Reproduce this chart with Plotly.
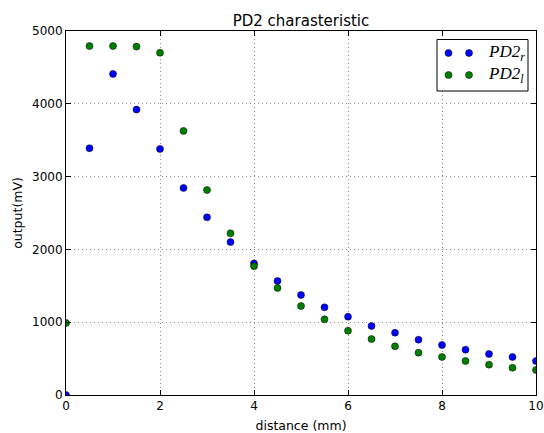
import plotly.graph_objects as go

distance = [0, 0.5, 1, 1.5, 2, 2.5, 3, 3.5, 4, 4.5, 5, 5.5, 6, 6.5, 7, 7.5, 8, 8.5, 9, 9.5, 10]
pd2_r = [0, 3390, 4410, 3920, 3380, 2845, 2440, 2100, 1808, 1566, 1374, 1204, 1076, 948, 856, 760, 687, 623, 563, 522, 467]
pd2_l = [990, 4794, 4794, 4786, 4702, 3628, 2816, 2221, 1770, 1470, 1222, 1040, 883, 769, 668, 581, 522, 467, 417, 375, 343]

x_ticks = [0, 2, 4, 6, 8, 10]
y_ticks = [0, 1000, 2000, 3000, 4000, 5000]

BLUE = "#0000ff"
GREEN = "#007f00"
FONT = "DejaVu Sans"

fig = go.Figure()
for name, vals, col in [("PD2_r", pd2_r, BLUE), ("PD2_l", pd2_l, GREEN)]:
    fig.add_trace(go.Scatter(
        x=distance, y=vals, mode="markers", name=name, showlegend=False,
        marker=dict(size=7, color=col, line=dict(color="#000000", width=0.5)),
        cliponaxis=True,
    ))

axis_common = dict(
    showline=True, linecolor="#000000", linewidth=1, mirror="ticks",
    ticks="inside", ticklen=5, tickcolor="#000000", tickwidth=1,
    showgrid=True, gridcolor="#8c8c8c", griddash="1px,3px", gridwidth=1,
    zeroline=False, tickfont=dict(family=FONT, size=12, color="#000000"),
    automargin=False,
)

fig.update_layout(
    width=544, height=433,
    margin=dict(l=66, r=8, t=31, b=38),
    paper_bgcolor="#ffffff", plot_bgcolor="#ffffff",
    title=dict(text="PD2 charasteristic", x=0.5, xanchor="center", xref="paper",
               y=1 - 21 / 433, yanchor="middle",
               font=dict(family=FONT, size=15, color="#000000")),
    xaxis=dict(range=[0, 10], tickvals=x_ticks, ticktext=[str(v) for v in x_ticks],
               title=dict(text="distance (mm)", standoff=8,
                          font=dict(family=FONT, size=12.5, color="#000000")),
               **axis_common),
    yaxis=dict(range=[0, 5000], tickvals=y_ticks, ticktext=[str(v) for v in y_ticks],
               title=dict(text="output(mV)", standoff=6,
                          font=dict(family=FONT, size=12.5, color="#000000")),
               **axis_common),
    showlegend=False,
)

# Custom legend (matplotlib style, two markers per entry)
pw, ph = 544 - 66 - 8, 433 - 31 - 38
def px(xp):
    return (xp - 66) / pw
def py(yp):
    return (395 - yp) / ph

fig.add_shape(type="rect", xref="paper", yref="paper",
              x0=px(437), x1=px(528), y0=py(91), y1=py(39.5),
              line=dict(color="#000000", width=1), fillcolor="#ffffff", layer="above")
labels = [("<i>PD2</i><sub><i>r</i></sub>", BLUE, 53), ("<i>PD2</i><sub><i>l</i></sub>", GREEN, 75)]
for text, col, yp in labels:
    for xp in (448.5, 469):
        fig.add_shape(type="circle", xref="paper", yref="paper",
                      x0=px(xp - 3.5), x1=px(xp + 3.5), y0=py(yp + 3.5), y1=py(yp - 3.5),
                      fillcolor=col, line=dict(color="#000000", width=0.5), layer="above")
    fig.add_annotation(xref="paper", yref="paper", x=px(486), y=py(yp), xanchor="left",
                       yanchor="middle", text=text, showarrow=False,
                       font=dict(family="Liberation Serif", size=17, color="#000000"))

fig.write_html("out.html")
